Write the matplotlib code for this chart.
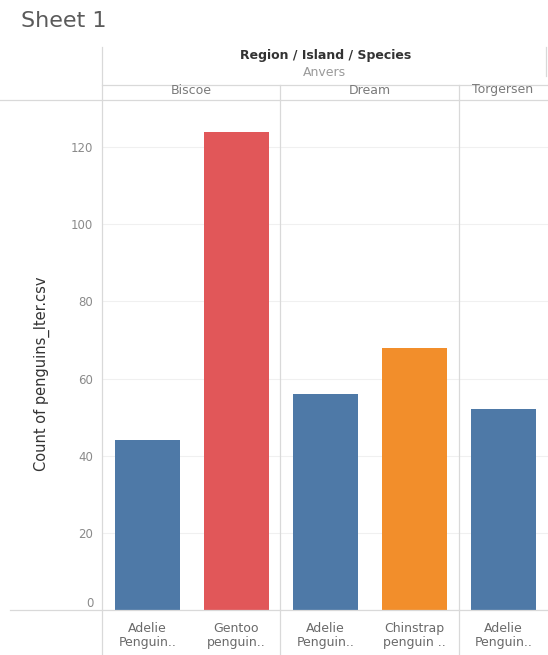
import matplotlib
matplotlib.use("Agg")
import matplotlib.pyplot as plt
from matplotlib.lines import Line2D

# Penguin counts by island and species
islands = ["Biscoe", "Biscoe", "Dream", "Dream", "Torgersen"]
species_labels = ["Adelie\nPenguin..", "Gentoo\npenguin..", "Adelie\nPenguin..",
                  "Chinstrap\npenguin ..", "Adelie\nPenguin.."]
counts = [44, 124, 56, 68, 52]
bar_colors = ["#4e79a7", "#e15759", "#4e79a7", "#f28e2b", "#4e79a7"]
island_names = ["Biscoe", "Dream", "Torgersen"]
yticks = [0, 20, 40, 60, 80, 100, 120]

W, H = 548, 655
fig = plt.figure(figsize=(W / 100, H / 100), dpi=100)

def fx(px):
    return px / W

def fy(py):
    return 1 - py / H

ax_left, ax_right, ax_top, ax_bottom = 103, 548, 100, 610
ax = fig.add_axes([fx(ax_left), fy(ax_bottom), fx(ax_right - ax_left), (ax_bottom - ax_top) / H])

x = list(range(len(counts)))
ax.bar(x, counts, width=0.74, color=bar_colors, zorder=3)
ax.set_xlim(-0.5, len(counts) - 0.5)
ax.set_ylim(0, 132.2)

for s in ax.spines.values():
    s.set_visible(False)

ax.set_yticks(yticks)
ax.set_yticklabels([str(v) for v in yticks])
ax.tick_params(axis="y", length=0, pad=7, labelsize=8.5, labelcolor="#8a8a8a")
ax.tick_params(axis="x", length=0)
ax.set_xticks([])
for lab in ax.get_yticklabels():
    if lab.get_text() == "0":
        lab.set_verticalalignment("bottom")
ax.grid(axis="y", color="#f0f0f0", linewidth=0.8, zorder=0)

# Species labels under each bar
for xi, lab in zip(x, species_labels):
    ax.text(xi, -3.0, lab, ha="center", va="top", fontsize=9, color="#6a6a6a",
            linespacing=1.15, clip_on=False)

# Y axis title
fig.text(fx(42), fy(374), "Count of penguins_lter.csv", rotation=90, ha="center",
         va="center", fontsize=10.5, color="#333333",
         family=["Liberation Sans Narrow", "DejaVu Sans"])

# Frame lines
line_color = "#d9d9d9"
lines = [
    ((102, 102), (47, 655)),      # left axis line
    ((0, 548), (100, 100)),       # header bottom
    ((10, 548), (610, 610)),      # baseline
    ((280, 280), (85, 655)),      # Biscoe | Dream
    ((459, 459), (85, 655)),      # Dream | Torgersen
    ((546, 546), (47, 76)),       # header right edge
    ((102, 548), (85, 85)),       # island header top
]
for (xs, ys) in lines:
    fig.add_artist(Line2D([fx(v) for v in xs], [fy(v) for v in ys],
                          color=line_color, linewidth=0.9))

# Titles and headers
fig.text(fx(21), fy(21), "Sheet 1", ha="left", va="center", fontsize=16, color="#5a5a5a")
fig.text(fx(326), fy(56), "Region / Island / Species", ha="center", va="center",
         fontsize=9, fontweight="bold", color="#333333")
fig.text(fx(324), fy(73), "Anvers", ha="center", va="center", fontsize=9, color="#9a9a9a")
island_centers = [191, 369.5, 503]
for name, cx in zip(island_names, island_centers):
    fig.text(fx(cx), fy(90), name, ha="center", va="center", fontsize=9, color="#7a7a7a")

fig.savefig("out.png", dpi=100)
